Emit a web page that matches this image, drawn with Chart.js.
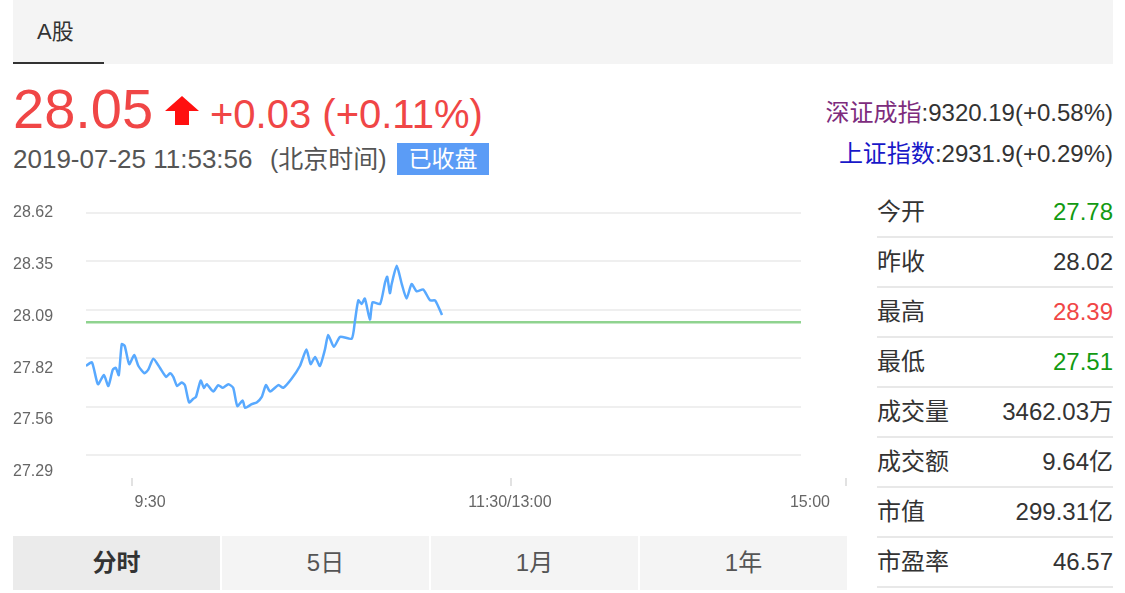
<!DOCTYPE html>
<html>
<head>
<meta charset="utf-8">
<script src="https://cdn.jsdelivr.net/npm/chart.js@4.4.0/dist/chart.umd.min.js"></script>
<style>
body{margin:0;width:1125px;height:593px;overflow:hidden;background:#fff;font-family:"Liberation Sans",Arial,"Noto Sans CJK SC",sans-serif;color:#333;}
.abs{position:absolute;white-space:nowrap;}
.tabbar{left:13px;top:0;width:1100px;height:64px;background:#f4f4f4;}
.tab-a{left:37px;top:0;font-size:22px;line-height:64px;color:#333;}
.tab-line{left:13px;top:62px;width:91px;height:2px;background:#333;}
.red{color:#f04646;}
.green{color:#129a12;}
.badge{left:397px;top:143px;width:92px;height:32px;background:#5b9cf6;color:#fff;font-size:23px;line-height:32px;text-align:center;}
.idx{right:12px;font-size:24px;line-height:24px;color:#333;}
.row{left:877px;width:236px;height:48px;border-bottom:2px solid #e8e8e8;font-size:24px;line-height:48px;}
.row .v{position:absolute;right:0;top:0;}
.btab{top:536px;width:207px;height:54px;background:#f4f4f4;font-size:24px;line-height:54px;text-align:center;color:#555;}
.btab.on{background:#ebebeb;font-weight:bold;color:#333;}
#chartBox{position:absolute;left:0;top:190px;width:860px;height:330px;}
</style>
</head>
<body>
<div class="abs tabbar"></div>
<div class="abs tab-a">A股</div>
<div class="abs tab-line"></div>

<div class="abs red" style="left:13px;top:81px;font-size:56px;line-height:56px;">28.05</div>
<svg class="abs" style="left:164px;top:96px;" width="36" height="30" viewBox="0 0 36 30">
  <polygon points="18,0 35,15 25,15 25,29 11,29 11,15 1,15" fill="#ff1010"/>
</svg>
<div class="abs red" style="left:210px;top:94px;font-size:40px;line-height:40px;">+0.03 (+0.11%)</div>
<div class="abs" style="left:13px;top:146px;font-size:26px;line-height:26px;color:#555;">2019-07-25 11:53:56</div>
<div class="abs" style="left:270px;top:146px;font-size:25px;line-height:26px;color:#555;">(北京时间)</div>
<div class="abs badge">已收盘</div>

<div class="abs idx" style="top:101px;"><span style="color:#7d2c7d;">深证成指</span>:9320.19(+0.58%)</div>
<div class="abs idx" style="top:142px;"><span style="color:#1818c8;">上证指数</span>:2931.9(+0.29%)</div>

<div id="stats"></div>

<div class="abs btab on" style="left:13px;">分时</div>
<div class="abs btab" style="left:222px;">5日</div>
<div class="abs btab" style="left:431px;">1月</div>
<div class="abs btab" style="left:640px;">1年</div>

<div id="chartBox"><canvas id="fenshi" width="860" height="330"></canvas></div>

<script>
// 分时数据: 距 9:30 的分钟数 / 价格
var minutes = [0,2,4,6,7.5,9,10,11,12,13,14.5,16.2,17.6,19.6,20.9,22.6,24.8,26.9,28.2,29.3,
  30.6,32.1,33.2,34.6,36,36.9,38.5,39.6,40.5,42.7,44.4,45.9,47.8,49.4,50.8,52.6,53.4,55.6,57.3,59,
  60.4,61.8,64.6,66.2,69,71.8,74,75.4,76.9,78.5,80.2,81.3,83.2,85.3,89.2,90.3,91.4,92.5,93.6,95.3,
  96.2,98.7,100.4,101.1,102,102.6,104.3,106,107.6,109.3,111,113.2,115.5,117.2,119.5];
var prices = [27.78,27.80,27.68,27.73,27.67,27.76,27.77,27.73,27.90,27.89,27.79,27.84,27.78,27.74,27.76,27.82,27.77,27.72,27.74,27.72,
  27.67,27.69,27.675,27.58,27.60,27.61,27.70,27.66,27.68,27.64,27.675,27.66,27.68,27.66,27.56,27.59,27.55,27.57,27.58,27.61,
  27.675,27.64,27.675,27.66,27.71,27.78,27.87,27.79,27.83,27.78,27.87,27.95,27.885,27.94,27.93,28.03,28.14,28.12,28.15,28.035,
  28.13,28.12,28.24,28.27,28.18,28.23,28.33,28.23,28.15,28.23,28.19,28.20,28.14,28.14,28.06];
var prevClose = 28.02;
var sessionMinutes = 240;

var gridValues = [28.62, 28.354, 28.088, 27.822, 27.556, 27.29];
var yLabels = ['28.62', '28.35', '28.09', '27.82', '27.56', '27.29'];
var xLabels = ['9:30', '11:30/13:00', '15:00'];

var statNames = ['今开', '昨收', '最高', '最低', '成交量', '成交额', '市值', '市盈率'];
var statValues = ['27.78', '28.02', '28.39', '27.51', '3462.03万', '9.64亿', '299.31亿', '46.57'];
var statColors = ['green', '', 'red', 'green', '', '', '', ''];

// 右侧行情表
var html = '';
for (var i = 0; i < statNames.length; i++) {
  html += '<div class="abs row" style="top:' + (188 + i * 50) + 'px;">' + statNames[i] +
    '<span class="v ' + statColors[i] + '">' + statValues[i] + '</span></div>';
}
document.getElementById('stats').innerHTML = html;

var pricePoints = minutes.map(function(m, i) { return {x: m, y: prices[i]}; });
var closePoints = [{x: 0, y: prevClose}, {x: sessionMinutes, y: prevClose}];

// 横向网格线, 只画到 15:00
var gridPlugin = {
  id: 'priceGrid',
  beforeDatasetsDraw: function(chart) {
    var ctx = chart.ctx, xs = chart.scales.x, ys = chart.scales.y;
    var x0 = xs.getPixelForValue(0), x1 = xs.getPixelForValue(sessionMinutes);
    ctx.save();
    ctx.strokeStyle = '#efefef';
    ctx.lineWidth = 2;
    gridValues.forEach(function(v) {
      var py = Math.round(ys.getPixelForValue(v));
      ctx.beginPath();
      ctx.moveTo(x0, py);
      ctx.lineTo(x1, py);
      ctx.stroke();
    });
    ctx.restore();
  }
};

var xMax = sessionMinutes * 760 / 715;
var yMax = gridValues[0];
var yMin = 27.165;

Chart.defaults.font.family = '"Liberation Sans", Arial, sans-serif';

new Chart(document.getElementById('fenshi'), {
  type: 'line',
  data: {
    datasets: [
      {
        data: pricePoints,
        borderColor: '#58a9ff',
        borderWidth: 2.5,
        pointRadius: 0,
        tension: 0.2
      },
      {
        data: closePoints,
        borderColor: '#8fd38f',
        borderWidth: 2.5,
        pointRadius: 0
      }
    ]
  },
  options: {
    responsive: false,
    animation: false,
    layout: {padding: {top: 23, right: 14, bottom: 0, left: 13}},
    plugins: {legend: {display: false}, tooltip: {enabled: false}},
    scales: {
      x: {
        type: 'linear',
        position: 'bottom',
        weight: 0,
        min: 0,
        max: xMax,
        grid: {drawOnChartArea: false, drawTicks: true, tickLength: 8, color: '#e2e2e2', lineWidth: 2},
        border: {display: false},
        ticks: {display: false},
        afterBuildTicks: function(scale) {
          scale.ticks = [15.4, 142.7, xMax].map(function(v) { return {value: v}; });
        },
        afterFit: function(scale) { scale.height = 8; }
      },
      xLabel: {
        type: 'linear',
        position: 'bottom',
        weight: 1,
        min: 0,
        max: xMax,
        grid: {display: false, drawTicks: false},
        border: {display: false},
        ticks: {
          color: '#666',
          font: {size: 16},
          padding: 7,
          maxRotation: 0,
          autoSkip: false,
          callback: function(v, i) { return xLabels[i]; }
        },
        afterBuildTicks: function(scale) {
          scale.ticks = [21.5, 142.3, 243].map(function(v) { return {value: v}; });
        },
        afterFit: function(scale) { scale.height = 34; }
      },
      y: {
        type: 'linear',
        position: 'left',
        min: yMin,
        max: yMax,
        grid: {display: false, drawTicks: false},
        border: {display: false},
        ticks: {
          color: '#666',
          font: {size: 16},
          padding: 0,
          crossAlign: 'far',
          autoSkip: false,
          callback: function(v, i) { return yLabels[i]; }
        },
        afterBuildTicks: function(scale) {
          // 标签等距排列(与网格线不完全对齐)
          var span = 1.42;
          scale.ticks = yLabels.map(function(l, i) { return {value: yMax - i * span / (yLabels.length - 1)}; });
        },
        afterFit: function(scale) { scale.width = 73; }
      }
    }
  },
  plugins: [gridPlugin]
});
</script>
</body>
</html>
